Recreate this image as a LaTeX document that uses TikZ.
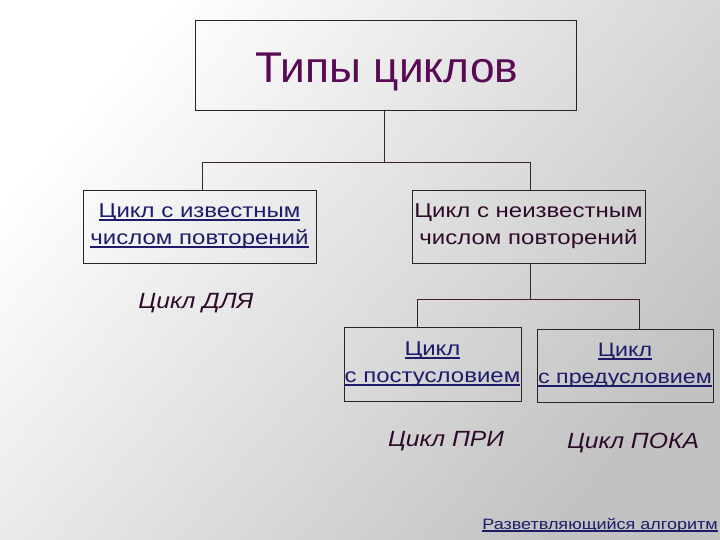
\documentclass[tikz,border=0pt]{standalone}
\usepackage{fontspec}
\setmainfont{Liberation Sans}
\newfontfamily\boxfont[FakeStretch=1.2]{Liberation Sans}
\newfontfamily\titlefont[FakeStretch=1.03]{Liberation Sans}
\newfontfamily\italfont[FakeStretch=1.12]{Liberation Sans}
\definecolor{linkblue}{HTML}{1C1C6A}
\definecolor{titlepurple}{HTML}{5A0A55}
\definecolor{darkplum}{HTML}{2E0A2A}
\definecolor{linecol}{HTML}{3A2030}
\newcommand\myul[1]{\leavevmode\setbox0\hbox{#1}\rlap{\copy0}\rule[-0.17em]{\wd0}{0.09em}}
\tikzset{
  box/.style={draw=black!85, line width=0.9pt, inner sep=0pt, align=center},
  conn/.style={draw=linecol, line width=0.9pt},
  linktext/.style={text=linkblue, font=\boxfont\fontsize{20}{27}\selectfont},
  plaintext/.style={text=darkplum, font=\boxfont\fontsize{20}{27}\selectfont},
  ital/.style={text=darkplum, font=\italfont\fontsize{22}{25}\selectfont\itshape, inner sep=0pt}
}
\begin{document}
\begin{tikzpicture}[x=1pt,y=-1pt]
\shade[top color=white, bottom color=black!24, shading angle=50] (0,0) rectangle (720,540);
\useasboundingbox (0,0) rectangle (720,540);

\node[box, minimum width=381pt, minimum height=90pt] (title) at (385.5,65) {};
\node[text=titlepurple, font=\titlefont\fontsize{43}{50}\selectfont, inner sep=0pt, anchor=base] (titletext) at (387,83) {Типы циклов};

\node[box, minimum width=233pt, minimum height=73pt, linktext] (left) at (199.5,226.5)
  {\myul{Цикл с известным}\\\myul{числом повторений}};
\node[box, minimum width=233pt, minimum height=73pt, plaintext] (right) at (528.5,226.5)
  {Цикл с неизвестным\\числом повторений};

\node[box, minimum width=177pt, minimum height=74pt, linktext] (post) at (432.5,364)
  {\myul{Цикл}\\\myul{с постусловием}};
\node[box, minimum width=176pt, minimum height=73pt, linktext, font=\boxfont\fontsize{19.4}{27}\selectfont] (pre) at (625,365.5)
  {\myul{Цикл}\\\myul{с предусловием}};

\node[ital] (dlya) at (196,303) {Цикл ДЛЯ};
\node[ital] (pri) at (446,441) {Цикл ПРИ};
\node[ital] (poka) at (633,443) {Цикл ПОКА};

\node[text=linkblue, font=\boxfont\fontsize{15}{18}\selectfont, inner sep=0pt, anchor=east] (alg) at (718,525)
  {\myul{Разветвляющийся алгоритм}};

\coordinate (j1) at (384,162);
\coordinate (j2) at (530,299);
\draw[conn] (title.south -| j1) -- (j1);
\draw[conn] ([xshift=2.5pt]left.north) -- ([xshift=2.5pt]left.north |- j1) -- ([xshift=1.5pt]right.north |- j1) -- ([xshift=1.5pt]right.north);
\draw[conn] (right.south -| j2) -- (j2);
\draw[conn] ([xshift=-15.5pt]post.north) -- ([xshift=-15.5pt]post.north |- j2) -- ([xshift=14pt]pre.north |- j2) -- ([xshift=14pt]pre.north);
\end{tikzpicture}
\end{document}
